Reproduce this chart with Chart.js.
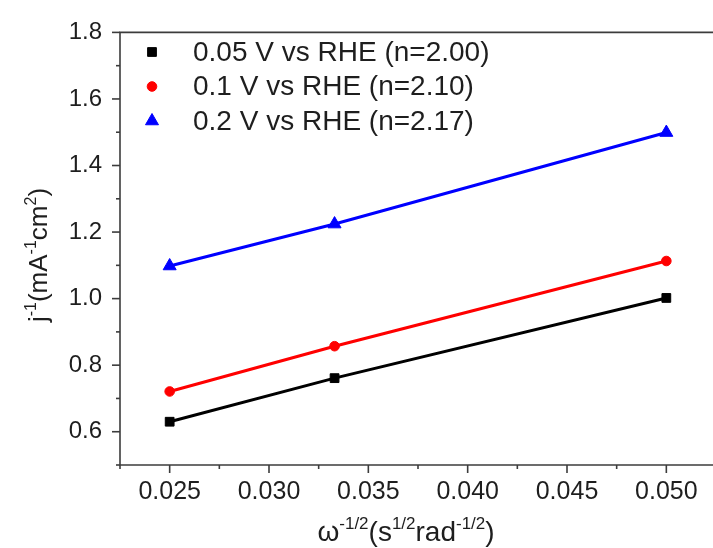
<!DOCTYPE html>
<html>
<head>
<meta charset="utf-8">
<script src="https://cdn.jsdelivr.net/npm/chart.js@4.4.0/dist/chart.umd.min.js"></script>
<style>
  html, body { margin: 0; padding: 0; background: #fff; overflow: hidden; }
  #wrap { width: 713px; height: 548px; overflow: hidden; }
  canvas { display: block; }
</style>
</head>
<body>
<div id="wrap"><canvas id="kl" width="728" height="548"></canvas></div>
<script>
// --- Data: Koutecky-Levich points ---
const omegaInvSqrt = [0.025, 0.0333, 0.05];
const jInv005 = [0.63, 0.761, 1.002];
const jInv01 = [0.721, 0.857, 1.113];
const jInv02 = [1.098, 1.224, 1.499];
const seriesLabels = [
  "0.05 V vs RHE (n=2.00)",
  "0.1 V vs RHE (n=2.10)",
  "0.2 V vs RHE (n=2.17)"
];

// --- Tick positions ---
const xTickVals = [0.0225, 0.025, 0.0275, 0.03, 0.0325, 0.035, 0.0375, 0.04, 0.0425, 0.045, 0.0475, 0.05, 0.0525];
const yTickVals = [0.5, 0.6, 0.7, 0.8, 0.9, 1.0, 1.1, 1.2, 1.3, 1.4, 1.5, 1.6, 1.7, 1.8];

const FONT = "'Liberation Sans', Arial, sans-serif";
const AXIS = "#3c3c3c";
const TEXT = "#1e1e1e";

function toPoints(ys) {
  return omegaInvSqrt.map((x, i) => ({ x, y: ys[i] }));
}

const isMajorX = v => Math.round(v * 400) % 2 === 0;
const isMajorY = v => Math.round(v * 10) % 2 === 0;

// --- Draw text with superscript runs ---
function richWidth(ctx, segs, size, supSize) {
  let w = 0;
  segs.forEach(s => {
    ctx.font = `${s.sup ? supSize : size}px ${FONT}`;
    w += ctx.measureText(s.t).width;
  });
  return w;
}

function drawRich(ctx, segs, x, y, size, supSize, supRise) {
  let cx = x - richWidth(ctx, segs, size, supSize) / 2;
  segs.forEach(s => {
    ctx.font = `${s.sup ? supSize : size}px ${FONT}`;
    ctx.fillText(s.t, cx, s.sup ? y - supRise : y);
    cx += ctx.measureText(s.t).width;
  });
}

const xTitle = [
  { t: "\u03c9" }, { t: "-1/2", sup: true }, { t: "(s" }, { t: "1/2", sup: true },
  { t: "rad" }, { t: "-1/2", sup: true }, { t: ")" }
];
const yTitle = [
  { t: "j" }, { t: "-1", sup: true }, { t: "(mA" }, { t: "-1", sup: true },
  { t: "cm" }, { t: "2", sup: true }, { t: ")" }
];

// --- Axis lines, tick marks, titles and legend ---
const decorPlugin = {
  id: "decor",
  afterDraw(chart) {
    const { ctx, chartArea: a, scales, width } = chart;
    ctx.save();
    ctx.strokeStyle = AXIS;
    ctx.lineWidth = 1.6;
    ctx.beginPath();
    ctx.moveTo(width, a.top);
    ctx.lineTo(a.left, a.top);
    ctx.lineTo(a.left, a.bottom);
    ctx.lineTo(width, a.bottom);
    ctx.stroke();

    scales.x.ticks.forEach(t => {
      const px = scales.x.getPixelForValue(t.value);
      ctx.beginPath();
      ctx.moveTo(px, a.bottom);
      ctx.lineTo(px, a.bottom + (isMajorX(t.value) ? 8 : 4));
      ctx.stroke();
    });
    scales.y.ticks.forEach(t => {
      const py = scales.y.getPixelForValue(t.value);
      ctx.beginPath();
      ctx.moveTo(a.left, py);
      ctx.lineTo(a.left - (isMajorY(t.value) ? 8 : 4), py);
      ctx.stroke();
    });

    // axis titles
    ctx.fillStyle = TEXT;
    ctx.textBaseline = "alphabetic";
    ctx.textAlign = "left";
    drawRich(ctx, xTitle, 406, 541, 28, 17, 12);
    ctx.save();
    ctx.translate(47, 255);
    ctx.rotate(-Math.PI / 2);
    drawRich(ctx, yTitle, 0, 0, 26, 16, 11);
    ctx.restore();

    // legend
    ctx.textBaseline = "middle";
    chart.data.datasets.forEach((ds, i) => {
      const y = 52 + i * 34.5;
      ctx.fillStyle = ds.pointBackgroundColor;
      ctx.strokeStyle = ds.pointBackgroundColor;
      ctx.lineWidth = 1;
      Chart.helpers.drawPoint(ctx, {
        pointStyle: ds.pointStyle,
        radius: ds.pointRadius,
        rotation: 0,
        borderWidth: 1
      }, 152, y);
      ctx.fillStyle = TEXT;
      ctx.font = `28px ${FONT}`;
      ctx.fillText(ds.label, 193, y + 1);
    });
    ctx.restore();
  }
};

function series(label, ys, color, style, r) {
  return {
    label,
    data: toPoints(ys),
    borderColor: color,
    borderWidth: 3,
    pointStyle: style,
    pointRadius: r,
    pointBackgroundColor: color,
    pointBorderColor: color,
    pointBorderWidth: 1,
    showLine: true,
    tension: 0
  };
}

new Chart(document.getElementById("kl"), {
  type: "scatter",
  data: {
    datasets: [
      series(seriesLabels[0], jInv005, "#000000", "rect", 6.2),
      series(seriesLabels[1], jInv01, "#ff0000", "circle", 4.8),
      series(seriesLabels[2], jInv02, "#0000ff", "triangle", 7.5)
    ]
  },
  options: {
    responsive: false,
    animation: false,
    devicePixelRatio: 1,
    layout: { padding: { top: 26, right: 8, left: 0, bottom: 0 } },
    plugins: {
      legend: { display: false },
      tooltip: { enabled: false }
    },
    scales: {
      x: {
        type: "linear",
        min: 0.0225,
        max: 0.0525,
        afterBuildTicks: s => { s.ticks = xTickVals.map(value => ({ value })); },
        afterFit: s => { s.height = 83; },
        grid: { display: false, drawTicks: false },
        border: { display: false },
        ticks: {
          autoSkip: false,
          maxRotation: 0,
          minRotation: 0,
          padding: 12,
          color: TEXT,
          font: { family: FONT, size: 25 },
          callback: v => isMajorX(v) ? v.toFixed(3) : ""
        }
      },
      y: {
        type: "linear",
        min: 0.5,
        max: 1.8,
        afterBuildTicks: s => { s.ticks = yTickVals.map(value => ({ value })); },
        afterFit: s => { s.width = 120; },
        grid: { display: false, drawTicks: false },
        border: { display: false },
        ticks: {
          autoSkip: false,
          padding: 18,
          color: TEXT,
          font: { family: FONT, size: 24 },
          callback: v => isMajorY(v) ? v.toFixed(1) : ""
        }
      }
    }
  },
  plugins: [decorPlugin]
});
</script>
</body>
</html>
